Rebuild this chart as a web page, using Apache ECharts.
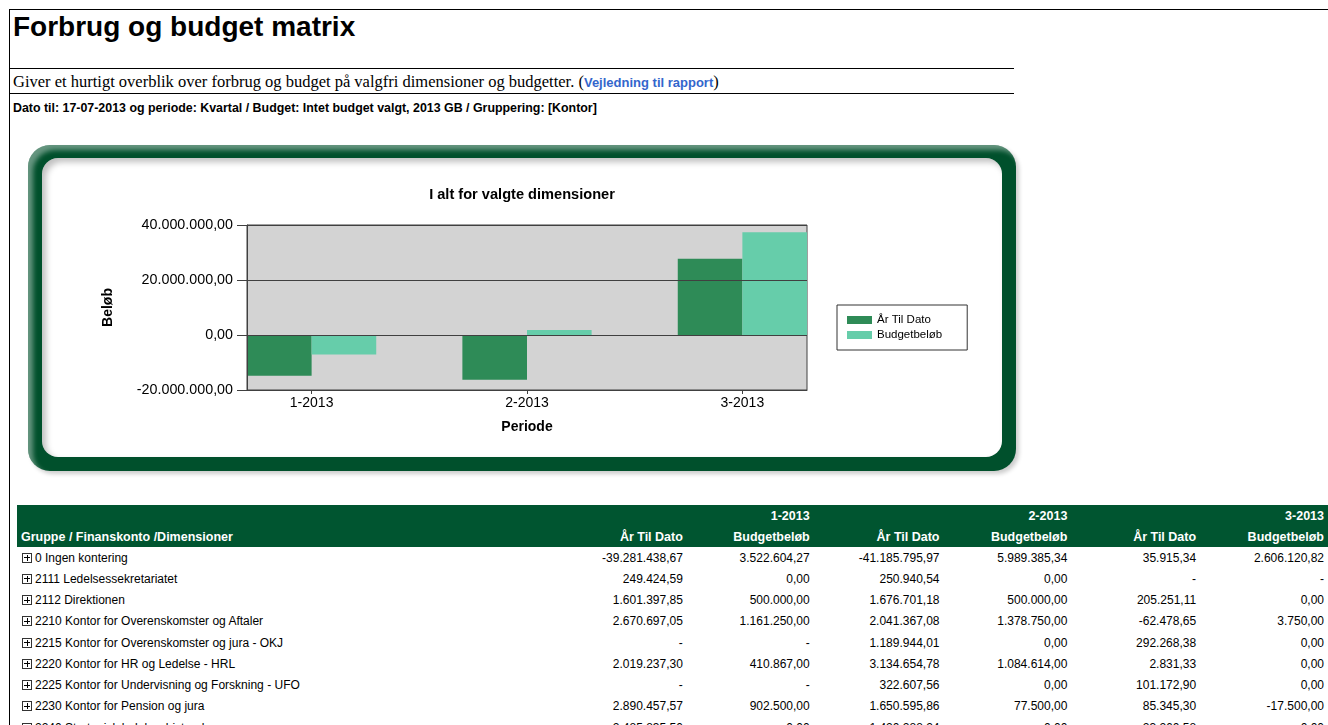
<!DOCTYPE html>
<html>
<head>
<meta charset="utf-8">
<title>Forbrug og budget matrix</title>
<script src="https://cdn.jsdelivr.net/npm/echarts@6/dist/echarts.min.js"></script>
<style>
  html, body { margin: 0; padding: 0; background: #fff; overflow: hidden; }
  body { width: 1328px; height: 725px; position: relative; font-family: "Liberation Sans", Arial, sans-serif; color: #000; }
  .page { position: absolute; left: 9px; top: 9px; width: 1330px; height: 730px; border-left: 1px solid #000; border-top: 1px solid #000; }
  .title { position: absolute; left: 3px; top: 1px; font-size: 28px; font-weight: bold; }
  .hr { position: absolute; left: 0; width: 1004px; height: 0; border-top: 1px solid #000; }
  .sub { position: absolute; left: 3px; top: 62px; font-family: "Liberation Serif", "Times New Roman", serif; font-size: 16.5px; white-space: nowrap; }
  .sub a { font-family: "Liberation Sans", Arial, sans-serif; font-size: 13px; font-weight: bold; color: #3366cc; text-decoration: none; }
  .dato { position: absolute; left: 3px; top: 91px; font-size: 12.4px; font-weight: bold; white-space: nowrap; }
  .frame { position: absolute; left: 28px; top: 145px; width: 988px; height: 326px; border-radius: 22px; background: #00502c;
           box-shadow: inset 5px 5px 5px rgba(255,255,255,0.4), 3px 3px 4px rgba(0,0,0,0.2); }
  .inner { position: absolute; left: 14px; top: 13px; width: 960px; height: 299px; border-radius: 16px; background: #fff;
           box-shadow: inset 4px 4px 6px rgba(0,0,0,0.25); }
  #main { position: absolute; left: 0; top: 0; width: 960px; height: 299px; }
  table { position: absolute; left: 17px; top: 505px; border-collapse: collapse; table-layout: fixed; }
  th { background: #005530; color: #fff; font-weight: bold; font-size: 12.5px; height: 21px; padding: 0 4px; text-align: right; white-space: nowrap; }
  th.l { text-align: left; }
  td { font-size: 12px; height: 21.25px; padding: 0 4px; text-align: right; white-space: nowrap; }
  td.l { text-align: left; padding-left: 5px; }
  .plus { display: inline-block; width: 8px; height: 8px; border: 1px solid #333; position: relative; vertical-align: -1px; margin-right: 3px; }
  .plus:before { content: ""; position: absolute; left: 1px; top: 3.5px; width: 6px; height: 1px; background: #000; }
  .plus:after { content: ""; position: absolute; left: 3.5px; top: 1px; width: 1px; height: 6px; background: #000; }
</style>
</head>
<body>
<div class="page">
  <div class="title">Forbrug og budget matrix</div>
  <div class="hr" style="top:58px"></div>
  <div class="sub">Giver et hurtigt overblik over forbrug og budget på valgfri dimensioner og budgetter. (<a href="#">Vejledning til rapport</a>)</div>
  <div class="hr" style="top:83px"></div>
  <div class="dato">Dato til: 17-07-2013 og periode: Kvartal / Budget: Intet budget valgt, 2013 GB / Gruppering: [Kontor]</div>
</div>
<div class="frame"><div class="inner"><div id="main"></div></div></div>
<table id="tbl"></table>
<script>
// Perioder og beløb i diagrammet
var periods = ['1-2013', '2-2013', '3-2013'];
var aarTilDato = [-14800000, -16300000, 27700000];
var budgetBeloeb = [-7100000, 1800000, 37400000];
var yTicks = [-20000000, 0, 20000000, 40000000];

// Tabellens rækker
var rowNames = [
  '0 Ingen kontering',
  '2111 Ledelsessekretariatet',
  '2112 Direktionen',
  '2210 Kontor for Overenskomster og Aftaler',
  '2215 Kontor for Overenskomster og jura - OKJ',
  '2220 Kontor for HR og Ledelse - HRL',
  '2225 Kontor for Undervisning og Forskning - UFO',
  '2230 Kontor for Pension og jura',
  '2240 Strategisk ledelsesbistand'
];
var atd1 = ['-39.281.438,67', '249.424,59', '1.601.397,85', '2.670.697,05', '-', '2.019.237,30', '-', '2.890.457,57', '2.485.835,50'];
var bud1 = ['3.522.604,27', '0,00', '500.000,00', '1.161.250,00', '-', '410.867,00', '-', '902.500,00', '0,00'];
var atd2 = ['-41.185.795,97', '250.940,54', '1.676.701,18', '2.041.367,08', '1.189.944,01', '3.134.654,78', '322.607,56', '1.650.595,86', '1.420.288,24'];
var bud2 = ['5.989.385,34', '0,00', '500.000,00', '1.378.750,00', '0,00', '1.084.614,00', '0,00', '77.500,00', '0,00'];
var atd3 = ['35.915,34', '-', '205.251,11', '-62.478,65', '292.268,38', '2.831,33', '101.172,90', '85.345,30', '23.260,58'];
var bud3 = ['2.606.120,82', '-', '0,00', '3.750,00', '0,00', '0,00', '0,00', '-17.500,00', '0,00'];

// Tabel
var html = '<colgroup><col style="width:543px"><col style="width:128px"><col style="width:127px"><col style="width:130px">' +
  '<col style="width:128px"><col style="width:129px"><col style="width:128px"></colgroup>';
html += '<tr><th></th><th></th><th>' + periods[0] + '</th><th></th><th>' + periods[1] + '</th><th></th><th>' + periods[2] + '</th></tr>';
html += '<tr><th class="l">Gruppe / Finanskonto /Dimensioner</th>';
for (var p = 0; p < 3; p++) html += '<th>År Til Dato</th><th>Budgetbeløb</th>';
html += '</tr>';
for (var i = 0; i < rowNames.length; i++) {
  html += '<tr><td class="l"><span class="plus"></span>' + rowNames[i] + '</td><td>' + atd1[i] + '</td><td>' + bud1[i] +
    '</td><td>' + atd2[i] + '</td><td>' + bud2[i] + '</td><td>' + atd3[i] + '</td><td>' + bud3[i] + '</td></tr>';
}
document.getElementById('tbl').innerHTML = html;

function danish(v) {
  var neg = v < 0;
  var s = Math.abs(Math.round(v)).toString().replace(/\B(?=(\d{3})+(?!\d))/g, '.');
  return (neg ? '-' : '') + s + ',00';
}

var myChart = echarts.init(document.getElementById('main'));

var option = {
  animation: false,
  textStyle: { fontFamily: 'Liberation Sans, Arial, sans-serif', color: '#000' },
  title: {
    text: 'I alt for valgte dimensioner',
    left: 'center',
    top: 24,
    textStyle: { fontSize: 14.6, fontWeight: 'bold', color: '#000' }
  },
  legend: {
    orient: 'vertical',
    left: 795,
    top: 147,
    borderColor: '#333',
    borderWidth: 1,
    padding: [8, 25, 8, 10],
    itemWidth: 25,
    itemHeight: 8,
    itemGap: 1,
    icon: 'rect',
    textStyle: { fontSize: 11.5, lineHeight: 14, color: '#000' },
    data: ['År Til Dato', 'Budgetbeløb']
  },
  grid: {
    left: 205,
    right: 195,
    top: 67,
    bottom: 67,
    show: true,
    backgroundColor: '#d3d3d3',
    borderColor: '#404040',
    borderWidth: 1
  },
  xAxis: {
    type: 'value',
    min: 0.7,
    max: 3.3,
    name: 'Periode',
    nameLocation: 'middle',
    nameGap: 30,
    nameTextStyle: { fontSize: 14, fontWeight: 'bold', color: '#000' },
    axisLine: { onZero: false, lineStyle: { color: '#404040' } },
    axisTick: { customValues: [1, 2, 3], length: 4, lineStyle: { color: '#404040' } },
    axisLabel: {
      customValues: [1, 2, 3],
      margin: 6,
      fontSize: 14,
      color: '#000',
      formatter: function (v) { return periods[Math.round(v) - 1]; }
    },
    splitLine: { show: false }
  },
  yAxis: {
    type: 'value',
    min: yTicks[0],
    max: yTicks[yTicks.length - 1],
    interval: 20000000,
    name: 'Beløb',
    nameLocation: 'middle',
    nameGap: 132,
    nameRotate: 90,
    nameTextStyle: { fontSize: 14, fontWeight: 'bold', color: '#000' },
    z: 3,
    axisLine: { show: true, lineStyle: { color: '#404040' } },
    axisTick: { show: true, length: 10, lineStyle: { color: '#404040' } },
    axisLabel: { fontSize: 14.3, margin: 14, color: '#000', formatter: danish },
    splitLine: { lineStyle: { color: '#404040', width: 1 } }
  },
  series: [
    {
      name: 'År Til Dato',
      type: 'bar',
      barGap: '0%',
      barCategoryGap: '40%',
      itemStyle: { color: '#2e8b57' },
      data: aarTilDato.map(function (v, i) { return [i + 1, v]; })
    },
    {
      name: 'Budgetbeløb',
      type: 'bar',
      barGap: '0%',
      barCategoryGap: '40%',
      itemStyle: { color: '#66cdaa' },
      data: budgetBeloeb.map(function (v, i) { return [i + 1, v]; })
    }
  ]
};

myChart.setOption(option);
</script>
</body>
</html>
